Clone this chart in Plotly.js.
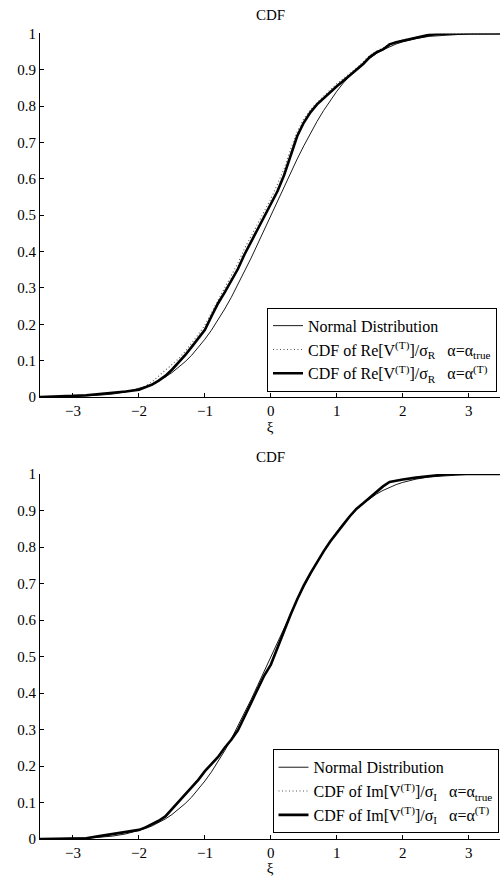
<!DOCTYPE html>
<html>
<head>
<meta charset="utf-8">
<script src="https://cdn.plot.ly/plotly-3.0.1.min.js"></script>
<style>html,body{margin:0;padding:0;background:#fff;}#chart{width:500px;height:876px;}</style>
</head>
<body>
<div id="chart"></div>
<script>
// xi grid
const xi = [-3.5,-3.2,-3.0,-2.8,-2.6,-2.4,-2.2,-2.0,-1.9,-1.8,-1.7,-1.6,-1.5,-1.4,-1.3,-1.2,-1.1,-1.0,-0.9,-0.8,-0.7,-0.6,-0.5,-0.4,-0.3,-0.2,-0.1,0,0.1,0.2,0.3,0.4,0.5,0.6,0.7,0.8,0.9,1.0,1.1,1.2,1.3,1.4,1.5,1.6,1.7,1.8,1.9,2.0,2.2,2.4,2.6,2.8,3.0,3.5];
// Normal distribution curve
const normalCdf = [0.000,0.001,0.001,0.003,0.005,0.008,0.014,0.023,0.029,0.036,0.045,0.055,0.067,0.081,0.097,0.115,0.136,0.159,0.184,0.212,0.242,0.274,0.309,0.345,0.382,0.421,0.460,0.500,0.540,0.579,0.618,0.655,0.691,0.726,0.758,0.788,0.816,0.841,0.864,0.885,0.903,0.919,0.933,0.945,0.955,0.964,0.971,0.977,0.986,0.992,0.995,0.997,0.999,1.000];
// Top: Re[V]/sigma_R, alpha = alpha_true (dotted)
const reTrue = [0,0.001,0.003,0.005,0.008,0.012,0.016,0.022,0.030,0.042,0.058,0.072,0.088,0.105,0.125,0.148,0.172,0.198,0.232,0.270,0.302,0.336,0.368,0.408,0.443,0.478,0.510,0.545,0.585,0.628,0.682,0.730,0.765,0.790,0.810,0.828,0.845,0.862,0.876,0.890,0.905,0.922,0.940,0.952,0.960,0.972,0.978,0.982,0.990,0.996,0.999,1,1,1];
// Top: Re[V]/sigma_R, alpha = alpha^(T) (thick)
const reEst = [0,0.001,0.003,0.005,0.008,0.011,0.015,0.020,0.026,0.034,0.045,0.058,0.075,0.094,0.115,0.138,0.160,0.185,0.222,0.258,0.288,0.322,0.352,0.392,0.426,0.462,0.494,0.528,0.566,0.610,0.665,0.718,0.755,0.783,0.805,0.822,0.838,0.855,0.870,0.885,0.900,0.916,0.935,0.948,0.956,0.970,0.976,0.980,0.989,0.996,0.999,1,1,1];
// Bottom: Im[V]/sigma_I, alpha = alpha_true (dotted)
const imTrue = [0,0.001,0.001,0.003,0.008,0.013,0.019,0.026,0.033,0.041,0.051,0.063,0.083,0.101,0.121,0.143,0.163,0.187,0.207,0.227,0.251,0.273,0.300,0.336,0.376,0.412,0.450,0.480,0.527,0.571,0.616,0.658,0.696,0.729,0.761,0.789,0.816,0.841,0.863,0.886,0.905,0.920,0.935,0.950,0.966,0.978,0.982,0.985,0.990,0.995,0.998,1,1,1];
// Bottom: Im[V]/sigma_I, alpha = alpha^(T) (thick)
const imEst = [0,0.001,0.001,0.002,0.008,0.013,0.018,0.025,0.032,0.040,0.050,0.062,0.082,0.100,0.120,0.142,0.162,0.186,0.205,0.225,0.250,0.272,0.298,0.335,0.375,0.410,0.448,0.478,0.525,0.570,0.615,0.657,0.695,0.728,0.760,0.788,0.815,0.840,0.862,0.885,0.905,0.920,0.935,0.950,0.966,0.978,0.982,0.985,0.990,0.995,0.998,1,1,1];

const xTicks = [-3,-2,-1,0,1,2,3];
const yTicks = [0,0.1,0.2,0.3,0.4,0.5,0.6,0.7,0.8,0.9,1];

const SP = '\u00a0\u00a0\u00a0';
const FONT = 'Liberation Serif';
const thin = {color:'#000', width:0.9};
const dot = {color:'#555', width:1.1, dash:'1px,2.5px'};
const thick = {color:'#000', width:2.6};

const traces = [
  {x:xi, y:normalCdf, type:'scatter', mode:'lines', line:thin, name:'Normal Distribution', xaxis:'x', yaxis:'y', legend:'legend'},
  {x:xi, y:reTrue, type:'scatter', mode:'lines', line:dot, name:'CDF of Re[V<sup>(T)</sup>]/σ<sub>R</sub>' + SP + 'α=α<sub>true</sub>', xaxis:'x', yaxis:'y', legend:'legend'},
  {x:xi, y:reEst, type:'scatter', mode:'lines', line:thick, name:'CDF of Re[V<sup>(T)</sup>]/σ<sub>R</sub>' + SP + 'α=α<sup>(T)</sup>', xaxis:'x', yaxis:'y', legend:'legend'},
  {x:xi, y:normalCdf, type:'scatter', mode:'lines', line:thin, name:'Normal Distribution', xaxis:'x2', yaxis:'y2', legend:'legend2'},
  {x:xi, y:imTrue, type:'scatter', mode:'lines', line:dot, name:'CDF of Im[V<sup>(T)</sup>]/σ<sub>I</sub>' + SP + 'α=α<sub>true</sub>', xaxis:'x2', yaxis:'y2', legend:'legend2'},
  {x:xi, y:imEst, type:'scatter', mode:'lines', line:thick, name:'CDF of Im[V<sup>(T)</sup>]/σ<sub>I</sub>' + SP + 'α=α<sup>(T)</sup>', xaxis:'x2', yaxis:'y2', legend:'legend2'}
];

function xax(anchor){
  return {anchor:anchor, domain:[0.08,1], range:[-3.5,3.474], tickvals:xTicks, ticks:'inside', ticklen:4, tickwidth:1, tickcolor:'#000',
    showline:true, linecolor:'#000', linewidth:1, mirror:false, showgrid:false, zeroline:false, automargin:false,
    tickfont:{family:FONT, size:15, color:'#000'}, title:{text:'ξ', font:{family:FONT, size:15, color:'#000'}, standoff:0}};
}
function yax(anchor, dom){
  return {anchor:anchor, domain:dom, range:[0,1], tickvals:yTicks, ticks:'inside', ticklen:4, tickwidth:1, tickcolor:'#000',
    showline:true, linecolor:'#000', linewidth:1, mirror:false, showgrid:false, zeroline:false, automargin:false,
    tickfont:{family:FONT, size:15, color:'#000'}};
}
const legendBase = {xref:'paper', yref:'paper', xanchor:'right', yanchor:'top', bgcolor:'#fff', bordercolor:'#000', borderwidth:1,
  font:{family:FONT, size:16, color:'#000'}, tracegroupgap:0, itemwidth:30};

const layout = {
  width:500, height:876, margin:{l:0, r:0, t:0, b:0}, paper_bgcolor:'#fff', plot_bgcolor:'#fff',
  font:{family:FONT, color:'#000'},
  showlegend:true,
  xaxis:xax('y'), yaxis:yax('x',[0.5468,0.9618]),
  xaxis2:xax('y2'), yaxis2:yax('x2',[0.0422,0.4589]),
  legend:Object.assign({}, legendBase, {x:0.994, y:0.6487}),
  legend2:Object.assign({}, legendBase, {x:0.997, y:0.1446}),
  annotations:[
    {text:'CDF', xref:'paper', yref:'paper', x:0.54, y:0.983, xanchor:'center', yanchor:'middle', showarrow:false, font:{family:FONT, size:15, color:'#000'}},
    {text:'CDF', xref:'paper', yref:'paper', x:0.54, y:0.4787, xanchor:'center', yanchor:'middle', showarrow:false, font:{family:FONT, size:15, color:'#000'}}
  ]
};

Plotly.newPlot('chart', traces, layout, {staticPlot:true, displayModeBar:false});
</script>
</body>
</html>
